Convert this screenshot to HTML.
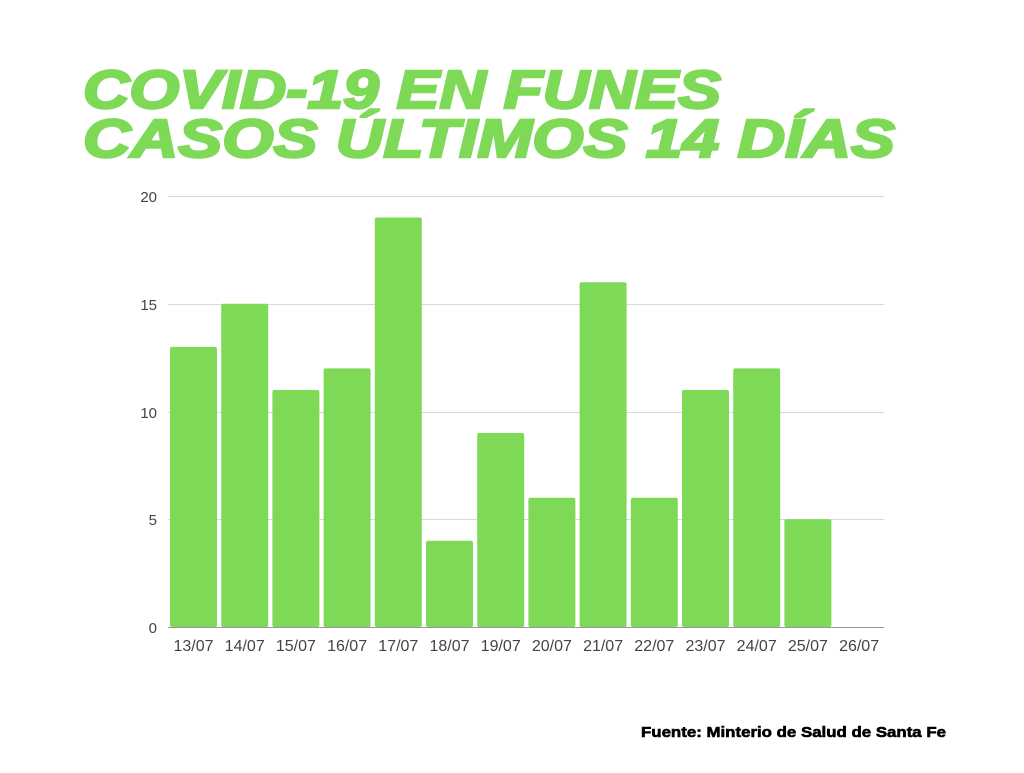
<!DOCTYPE html>
<html><head><meta charset="utf-8"><style>body{margin:0;background:#fff}</style></head><body>
<svg width="1024" height="768" xmlns="http://www.w3.org/2000/svg" font-family="Liberation Sans, sans-serif">
<rect width="1024" height="768" fill="#fff"/>
<g fill="#7ed957" stroke="#7ed957" stroke-width="2.5" font-weight="bold" font-style="italic" font-size="54">
<text x="83" y="108" textLength="638" lengthAdjust="spacingAndGlyphs">COVID-19 EN FUNES</text>
<text x="83" y="157" textLength="812" lengthAdjust="spacingAndGlyphs">CASOS ÚLTIMOS 14 DÍAS</text>
</g>
<g stroke="#d9d9d9" stroke-width="1">
<line x1="168" x2="884" y1="196.5" y2="196.5"/><line x1="168" x2="884" y1="304.5" y2="304.5"/>
<line x1="168" x2="884" y1="412.5" y2="412.5"/><line x1="168" x2="884" y1="519.5" y2="519.5"/>
</g>
<line x1="168" x2="884" y1="627.5" y2="627.5" stroke="#999"/>
<g fill="#444" font-size="15" text-anchor="end">
<text x="157" y="202">20</text><text x="157" y="310">15</text><text x="157" y="418">10</text><text x="157" y="525">5</text><text x="157" y="633">0</text>
</g>
<g fill="#7ed957" id="bars"></g>
<g fill="#444" font-size="16" text-anchor="middle" id="xl"></g>
<text x="641" y="737" font-size="15" font-weight="bold" fill="#000" stroke="#000" stroke-width="0.6" textLength="305" lengthAdjust="spacingAndGlyphs">Fuente: Minterio de Salud de Santa Fe</text>
<script>
var v=[13,15,11,12,19,4,9,6,16,6,11,12,5,0],l=["13/07","14/07","15/07","16/07","17/07","18/07","19/07","20/07","21/07","22/07","23/07","24/07","25/07","26/07"];
var b=document.getElementById('bars'),x=document.getElementById('xl'),ns="http://www.w3.org/2000/svg";
v.forEach(function(h,i){var x0=170+i*51.2;if(h>0){var r=document.createElementNS(ns,'rect');var hh=h*21.55;r.setAttribute('x',x0);r.setAttribute('y',627-hh);r.setAttribute('width',47);r.setAttribute('height',hh);r.setAttribute('rx',2);b.appendChild(r);}
var t=document.createElementNS(ns,'text');t.setAttribute('x',x0+23.5);t.setAttribute('y',651);t.textContent=l[i];x.appendChild(t);});
</script>
</svg>
</body></html>
